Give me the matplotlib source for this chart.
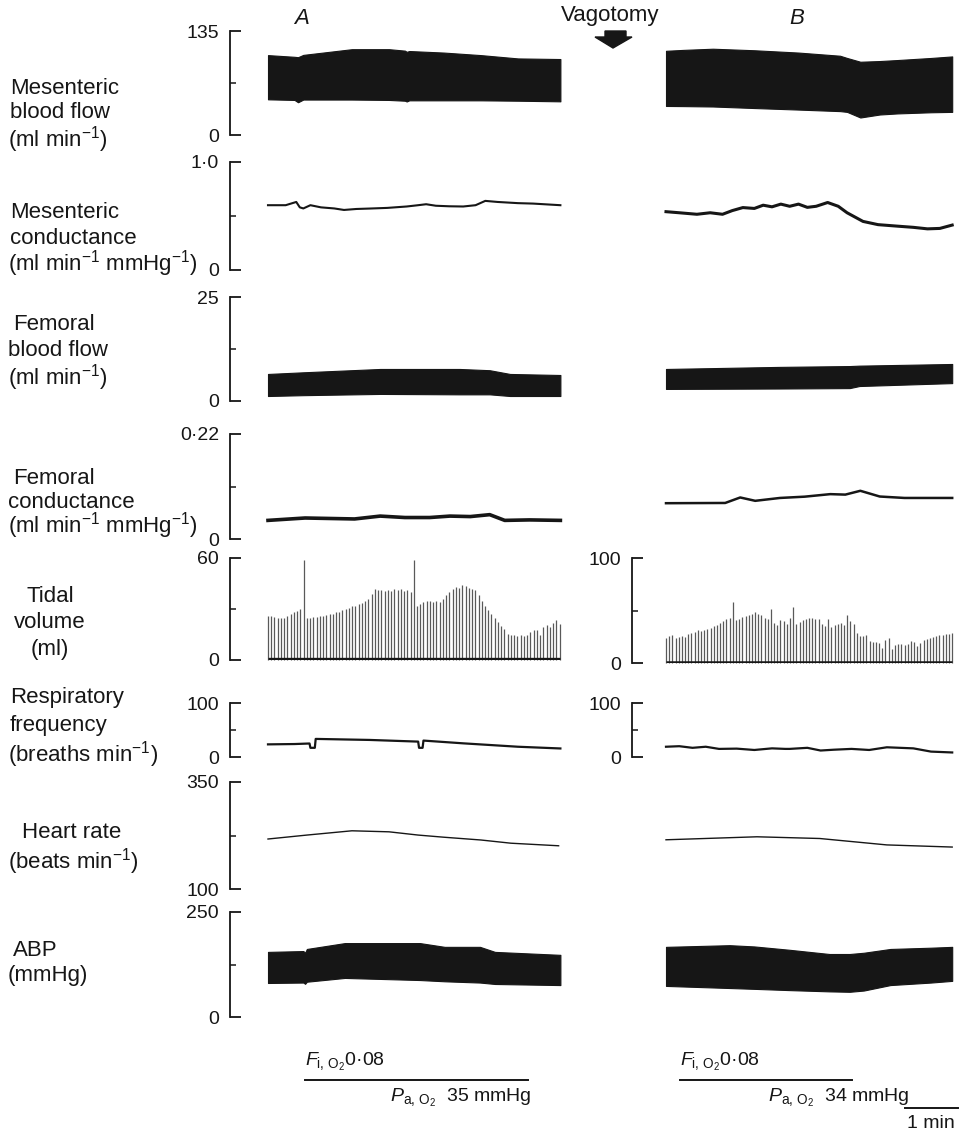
import numpy as np
import matplotlib.pyplot as plt
from matplotlib.patches import Polygon
from matplotlib import transforms

plt.rcParams['font.family'] = ['Liberation Sans', 'DejaVu Sans']
plt.rcParams['mathtext.fontset'] = 'custom'
plt.rcParams['mathtext.rm'] = 'Liberation Sans'
plt.rcParams['mathtext.it'] = 'Liberation Sans:italic'
plt.rcParams['mathtext.bf'] = 'Liberation Sans:bold'

# ---------------- data (time in s from start of each record) ----------------
# mesenteric blood flow, envelope of the pulsatile trace (ml/min)
mbf_a_t = [0, 30, 34, 40, 95, 137, 155, 157, 160, 199, 241, 283, 331]
mbf_a_hi = [103.7, 101.5, 101, 104, 111.4, 111.4, 109.5, 108, 109, 107, 103.7, 99.4, 98.6]
mbf_a_lo = [46.3, 45.5, 42.5, 46, 46, 45.5, 44.5, 43.5, 45, 45, 45, 44.5, 43.7]
mbf_b_t = [0, 20, 53, 100, 150, 197, 205, 220, 242, 262, 300, 324]
mbf_b_hi = [109.3, 110.5, 112, 110, 107, 102.9, 100, 95.1, 96, 97.3, 100, 102]
mbf_b_lo = [37.7, 37.5, 37, 35, 33, 31, 30, 22.7, 26.6, 28, 29.5, 30]

# mesenteric conductance (ml/min/mmHg)
mc_a_t = [0, 20, 32, 36, 40, 48, 60, 75, 86, 100, 115, 135, 157, 170, 179, 190,
          205, 221, 235, 246, 260, 283, 300, 331]
mc_a = [0.60, 0.60, 0.63, 0.58, 0.57, 0.60, 0.58, 0.57, 0.556, 0.565, 0.569, 0.575,
        0.588, 0.60, 0.609, 0.595, 0.59, 0.588, 0.60, 0.64, 0.63, 0.619, 0.615, 0.60]
mc_b_t = [0, 15, 35, 50, 64, 75, 87, 100, 110, 120, 130, 140, 150, 160, 170, 183,
          195, 205, 223, 240, 262, 280, 296, 310, 324]
mc_b = [0.54, 0.53, 0.516, 0.53, 0.516, 0.55, 0.578, 0.57, 0.60, 0.585, 0.61, 0.59,
        0.61, 0.58, 0.59, 0.625, 0.59, 0.53, 0.45, 0.42, 0.406, 0.395, 0.381, 0.385, 0.416]

# femoral blood flow envelope (ml/min)
fbf_a_t = [0, 40, 127, 217, 251, 274, 331]
fbf_a_hi = [6.5, 6.9, 7.7, 7.7, 7.4, 6.5, 6.25]
fbf_a_lo = [1.2, 1.4, 1.7, 1.6, 1.6, 1.2, 1.2]
fbf_b_t = [0, 129, 208, 219, 324]
fbf_b_hi = [7.7, 8.2, 8.4, 8.5, 8.9]
fbf_b_lo = [2.9, 3.0, 3.1, 3.6, 4.3]

# femoral conductance (ml/min/mmHg)
fc_a_t = [0, 42, 98, 127, 155, 183, 206, 229, 251, 268, 296, 331]
fc_a = [0.039, 0.044, 0.042, 0.048, 0.045, 0.045, 0.048, 0.047, 0.051, 0.039, 0.040, 0.039]
fc_b_t = [0, 67, 84, 101, 129, 157, 186, 203, 220, 242, 270, 324]
fc_b = [0.075, 0.0755, 0.087, 0.080, 0.086, 0.0887, 0.094, 0.093, 0.101, 0.089, 0.086, 0.086]

# tidal volume, one value per breath (ml)
tv_a = [26, 26, 25.5, 25, 25, 25, 26, 27, 28, 29, 30, 59, 25, 25, 25.5, 25.5, 26, 26,
        26.5, 27, 27, 28, 28.5, 29.5, 30, 30.5, 31.5, 32, 33, 33.5, 34.5, 36, 39, 42,
        41, 41, 40.5, 41, 40.5, 41.5, 41, 41.5, 40.5, 41, 40, 59, 32, 33, 34, 34.5,
        35, 34, 34.5, 34, 36, 38, 40, 41.5, 43, 42.5, 44, 43.5, 42.5, 42, 41, 38, 35,
        32, 29.5, 27, 25, 22.5, 20, 18, 15.5, 14.5, 14.5, 14, 14.5, 14, 14.5, 16.5,
        17.5, 17.5, 15, 19.5, 20.5, 19.5, 21.5, 23.5, 21]
tv_b = [24, 26, 27, 24, 25, 26, 24.5, 28, 29, 30, 31, 30.5, 31, 32, 33, 35, 36, 38,
        40, 42, 42.5, 58, 40.5, 42, 43.5, 45, 46, 47, 48.5, 47, 45.5, 43, 42, 51.5,
        38, 36, 41, 40, 37, 42.5, 53.5, 37.5, 39, 41, 42, 43, 43, 42, 41.5, 37, 35,
        41.5, 34, 36, 37.5, 38.5, 36, 45.5, 40, 37, 29, 26, 26, 26.5, 20.5, 20, 20,
        19.5, 14, 21.5, 24, 13, 17.5, 18.5, 18, 17.5, 18, 21, 20, 16, 19, 21.5, 23,
        24, 25, 26, 26.5, 27, 27.5, 28, 28.3]
tv_a_span = 330
tv_b_span = 324

# respiratory frequency (breaths/min)
rf_a_t = [0, 30, 47, 48, 53, 54, 115, 170, 171, 175, 176, 221, 283, 331]
rf_a = [23.4, 24, 25, 17, 17, 33.5, 31.6, 28.5, 17, 17, 30.4, 25.3, 19, 15.8]
rf_b_t = [0, 15, 30, 45, 60, 80, 100, 120, 135, 140, 160, 175, 190, 210, 230, 250,
          265, 280, 300, 324]
rf_b = [19, 20, 17, 19, 15, 15.5, 13, 16, 15, 15, 17, 12, 13.5, 15, 13, 18, 17, 16, 10, 8.4]

# heart rate (beats/min)
hr_a_t = [0, 44, 95, 137, 170, 199, 241, 275, 329]
hr_a = [216.8, 226, 236, 233.6, 226, 221, 214.5, 207, 201]
hr_b_t = [0, 103, 174, 250, 324]
hr_b = [215, 222, 218, 203, 198]

# arterial blood pressure envelope (mmHg)
abp_a_t = [0, 40, 42, 44, 87, 172, 200, 240, 257, 331]
abp_a_hi = [155, 157, 153, 162, 176, 176, 167, 167, 155, 148]
abp_a_lo = [81, 82, 79, 84, 93, 88, 85, 82, 78.6, 76]
abp_b_t = [0, 72, 100, 140, 185, 208, 224, 254, 300, 324]
abp_b_hi = [167, 171, 168, 160, 150, 150, 153, 162, 165, 167]
abp_b_lo = [74, 69, 67, 64, 61, 60, 63, 76, 82, 86]

# hypoxia periods (s) and 1 min time bar
hyp_a = (42, 294)
hyp_b = (16, 211)
bar_b = (270, 330)

# ---------------- layout ----------------
W, H = 963, 1135
S_PER_PX = 60 / 53
A0, B0 = 268, 666      # px where records A and B start
INK = '#161616'

fig = plt.figure(figsize=(W / 100, H / 100), dpi=100)
over = fig.add_axes([0, 0, 1, 1])
over.set_xlim(0, W)
over.set_ylim(H, 0)
over.axis('off')


def make_ax(x0, x1, y_top, y_bot, start_px, ymin, ymax, labels, spine=True):
    ax = fig.add_axes([x0 / W, 1 - y_bot / H, (x1 - x0) / W, (y_bot - y_top) / H])
    ax.set_xlim((x0 - start_px) * S_PER_PX, (x1 - start_px) * S_PER_PX)
    ax.set_ylim(ymin, ymax)
    ax.patch.set_visible(False)
    for s in ['top', 'right', 'bottom']:
        ax.spines[s].set_visible(False)
    ax.set_xticks([])
    if spine:
        ax.spines['left'].set_color(INK)
        ax.spines['left'].set_linewidth(1.3)
        ax.set_yticks([ymin, ymax], labels=labels)
        ax.set_yticks([(ymin + ymax) / 2], minor=True)
        ax.tick_params(axis='y', which='major', direction='in', length=8, width=1.3,
                       pad=8, labelsize=14, color=INK, labelcolor=INK)
        ax.tick_params(axis='y', which='minor', direction='in', length=4, width=1.1,
                       color=INK)
    else:
        ax.spines['left'].set_visible(False)
        ax.set_yticks([])
    return ax


rows = [
    (31, 135, 0, 135, ['0', '135']),
    (162, 270, 0, 1.0, ['0', '1·0']),
    (297, 401, 0, 25, ['0', '25']),
    (434, 539, 0, 0.22, ['0', '0·22']),
    (558, 660, 0, 60, ['0', '60']),
    (703, 757, 0, 100, ['0', '100']),
    (782, 889, 100, 350, ['100', '350']),
    (912, 1017, 0, 250, ['0', '250']),
]
axes_a, axes_b = [], []
for i, (yt, yb, ymin, ymax, labs) in enumerate(rows):
    axa = make_ax(230, 570, yt, yb, A0, ymin, ymax, labs)
    if i == 4:
        axb = make_ax(632, 963, 558, 663, B0, 0, 100, ['0', '100'])
    elif i == 5:
        axb = make_ax(632, 963, yt, yb, B0, 0, 100, ['0', '100'])
    else:
        axb = make_ax(632, 963, yt, yb, B0, ymin, ymax, labs, spine=False)
    axes_a.append(axa)
    axes_b.append(axb)

# ---------------- traces ----------------
axes_a[0].fill_between(mbf_a_t, mbf_a_lo, mbf_a_hi, color=INK, lw=0.8, edgecolor=INK)
axes_b[0].fill_between(mbf_b_t, mbf_b_lo, mbf_b_hi, color=INK, lw=0.8, edgecolor=INK)
axes_a[1].plot(mc_a_t, mc_a, color=INK, lw=1.5)
axes_b[1].plot(mc_b_t, mc_b, color=INK, lw=2.2)
axes_a[2].fill_between(fbf_a_t, fbf_a_lo, fbf_a_hi, color=INK, lw=0.8, edgecolor=INK)
axes_b[2].fill_between(fbf_b_t, fbf_b_lo, fbf_b_hi, color=INK, lw=0.8, edgecolor=INK)
axes_a[3].plot(fc_a_t, fc_a, color=INK, lw=2.6)
axes_b[3].plot(fc_b_t, fc_b, color=INK, lw=1.8)

ta = np.linspace(0, tv_a_span, len(tv_a))
axes_a[4].vlines(ta, 0, tv_a, color='0.35', lw=0.9, clip_on=False)
axes_a[4].plot([0, tv_a_span], [0.6, 0.6], color=INK, lw=2.4, solid_capstyle='butt')
tb = np.linspace(0, tv_b_span, len(tv_b))
axes_b[4].vlines(tb, 0, tv_b, color='0.35', lw=0.9, clip_on=False)
axes_b[4].plot([0, tv_b_span], [0.8, 0.8], color=INK, lw=1.8, solid_capstyle='butt')

axes_a[5].plot(rf_a_t, rf_a, color=INK, lw=1.6)
axes_b[5].plot(rf_b_t, rf_b, color=INK, lw=1.6)
axes_a[6].plot(hr_a_t, hr_a, color=INK, lw=1.0)
axes_b[6].plot(hr_b_t, hr_b, color=INK, lw=1.0)
axes_a[7].fill_between(abp_a_t, abp_a_lo, abp_a_hi, color=INK, lw=0.8, edgecolor=INK)
axes_b[7].fill_between(abp_b_t, abp_b_lo, abp_b_hi, color=INK, lw=0.8, edgecolor=INK)

# hypoxia lines and time bar (x in s, y in figure px)
tra = transforms.blended_transform_factory(axes_a[7].transData, over.transData)
trb = transforms.blended_transform_factory(axes_b[7].transData, over.transData)
over.plot(hyp_a, [1080, 1080], color=INK, lw=1.4, transform=tra, clip_on=False)
over.plot(hyp_b, [1080, 1080], color=INK, lw=1.4, transform=trb, clip_on=False)
over.plot(bar_b, [1108, 1108], color=INK, lw=1.4, transform=trb, clip_on=False)

# ---------------- text ----------------
tk = dict(fontsize=16, color=INK, va='center')
over.text(302, 18, 'A', style='italic', ha='center', **tk)
over.text(797, 18, 'B', style='italic', ha='center', **tk)
over.text(610, 15, 'Vagotomy', ha='center', **tk)
over.add_patch(Polygon([(605, 31), (626, 31), (626, 37), (632, 37), (613, 48),
                        (595, 37), (605, 37)], closed=True, color=INK))

left_labels = [
    (10, 88, 'Mesenteric'), (10, 113, 'blood flow'), (8, 140, r'(ml min$^{-1}$)'),
    (10, 212, 'Mesenteric'), (10, 238, 'conductance'),
    (8, 264, r'(ml min$^{-1}$ mmHg$^{-1}$)'),
    (13, 325, 'Femoral'), (8, 350, 'blood flow'), (8, 378, r'(ml min$^{-1}$)'),
    (13, 478, 'Femoral'), (8, 502, 'conductance'),
    (8, 526, r'(ml min$^{-1}$ mmHg$^{-1}$)'),
    (10, 697, 'Respiratory'), (10, 725, 'frequency'), (8, 755, r'(breaths min$^{-1}$)'),
    (22, 832, 'Heart rate'), (8, 862, r'(beats min$^{-1}$)'),
    (13, 950, 'ABP'), (8, 976, '(mmHg)'),
]
for x, y, s in left_labels:
    over.text(x, y, s, ha='left', **tk)
for y, s in [(597, 'Tidal'), (623, 'volume'), (649, '(ml)')]:
    over.text(50, y, s, ha='center', **tk)

bt = dict(fontsize=14, color=INK, va='center', ha='left')
over.text(305, 1062, r'$F_{\mathrm{i,\,O_2}}$0·08', **bt)
over.text(390, 1098, r'$P_{\mathrm{a,\,O_2}}$  35 mmHg', **bt)
over.text(680, 1062, r'$F_{\mathrm{i,\,O_2}}$0·08', **bt)
over.text(768, 1098, r'$P_{\mathrm{a,\,O_2}}$  34 mmHg', **bt)
over.text(931, 1124, '1 min', fontsize=14, color=INK, va='center', ha='center')

fig.savefig('out.png', dpi=100, facecolor='white')
